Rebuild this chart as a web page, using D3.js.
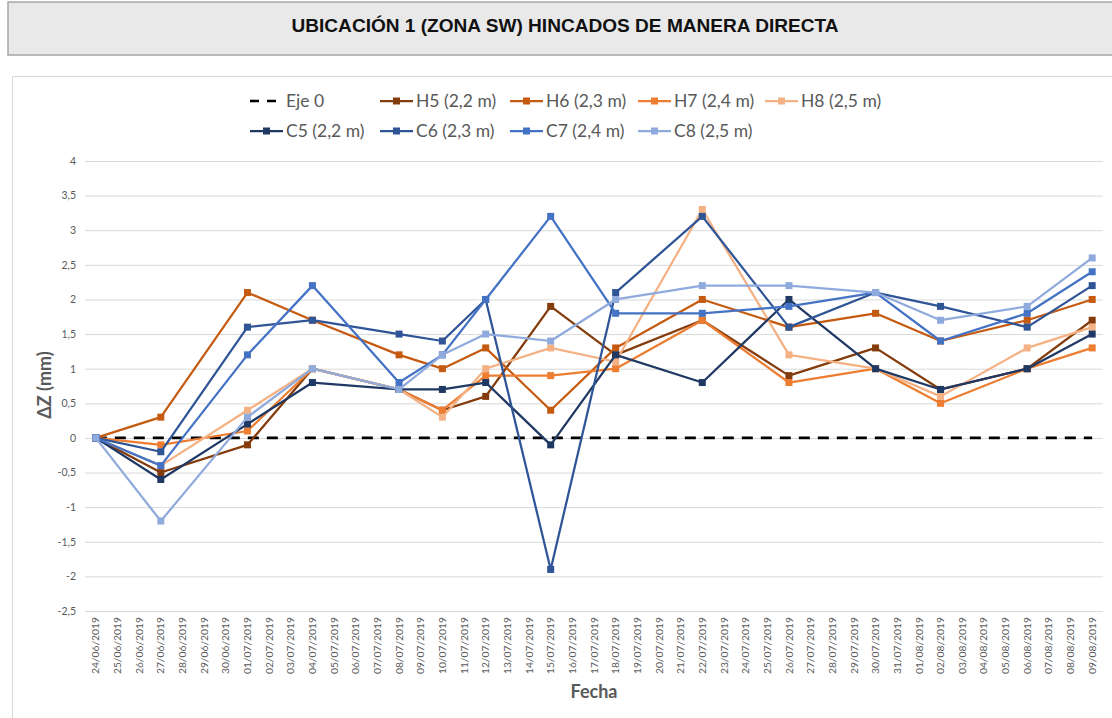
<!DOCTYPE html>
<html>
<head>
<meta charset="utf-8">
<script src="https://cdn.jsdelivr.net/npm/d3@7.9.0/dist/d3.min.js"></script>
<style>
body { margin: 0; background: #fff; }
svg { display: block; }
</style>
</head>
<body>
<div id="chart"></div>
<script>
const dayLabels = [
  "24/06/2019","25/06/2019","26/06/2019","27/06/2019","28/06/2019","29/06/2019","30/06/2019",
  "01/07/2019","02/07/2019","03/07/2019","04/07/2019","05/07/2019","06/07/2019","07/07/2019",
  "08/07/2019","09/07/2019","10/07/2019","11/07/2019","12/07/2019","13/07/2019","14/07/2019",
  "15/07/2019","16/07/2019","17/07/2019","18/07/2019","19/07/2019","20/07/2019","21/07/2019",
  "22/07/2019","23/07/2019","24/07/2019","25/07/2019","26/07/2019","27/07/2019","28/07/2019",
  "29/07/2019","30/07/2019","31/07/2019","01/08/2019","02/08/2019","03/08/2019","04/08/2019",
  "05/08/2019","06/08/2019","07/08/2019","08/08/2019","09/08/2019"
];
const fechas = ["24/06/2019","27/06/2019","01/07/2019","04/07/2019","08/07/2019","10/07/2019","12/07/2019",
  "15/07/2019","18/07/2019","22/07/2019","26/07/2019","30/07/2019","02/08/2019","06/08/2019","09/08/2019"];

const eje0 = [0, 0, 0, 0, 0, 0, 0, 0, 0, 0, 0, 0, 0, 0, 0];
const h5 = [0, -0.5, -0.1, 1.0, 0.7, 0.4, 0.6, 1.9, 1.2, 1.7, 0.9, 1.3, 0.7, 1.0, 1.7];
const h6 = [0, 0.3, 2.1, 1.7, 1.2, 1.0, 1.3, 0.4, 1.3, 2.0, 1.6, 1.8, 1.4, 1.7, 2.0];
const h7 = [0, -0.1, 0.1, 1.0, 0.7, 0.4, 0.9, 0.9, 1.0, 1.7, 0.8, 1.0, 0.5, 1.0, 1.3];
const h8 = [0, -0.4, 0.4, 1.0, 0.7, 0.3, 1.0, 1.3, 1.1, 3.3, 1.2, 1.0, 0.6, 1.3, 1.6];
const c5 = [0, -0.6, 0.2, 0.8, 0.7, 0.7, 0.8, -0.1, 1.2, 0.8, 2.0, 1.0, 0.7, 1.0, 1.5];
const c6 = [0, -0.2, 1.6, 1.7, 1.5, 1.4, 2.0, -1.9, 2.1, 3.2, 1.6, 2.1, 1.9, 1.6, 2.2];
const c7 = [0, -0.4, 1.2, 2.2, 0.8, 1.2, 2.0, 3.2, 1.8, 1.8, 1.9, 2.1, 1.4, 1.8, 2.4];
const c8 = [0, -1.2, 0.3, 1.0, 0.7, 1.2, 1.5, 1.4, 2.0, 2.2, 2.2, 2.1, 1.7, 1.9, 2.6];

const yTicks = [-2.5, -2, -1.5, -1, -0.5, 0, 0.5, 1, 1.5, 2, 2.5, 3, 3.5, 4];

const seriesNames = ["H5 (2,2 m)", "H6 (2,3 m)", "H7 (2,4 m)", "H8 (2,5 m)",
                     "C5 (2,2 m)", "C6 (2,3 m)", "C7 (2,4 m)", "C8 (2,5 m)"];
const seriesColors = ["#843c0c", "#c55a11", "#ed7d31", "#f4b183",
                      "#1f3864", "#2f5597", "#4472c4", "#8faadc"];
const seriesValues = [h5, h6, h7, h8, c5, c6, c7, c8];

const width = 1112, height = 718;
const plot = { left: 85, right: 1103, top: 161, bottom: 611 };
const textGray = "#595959";
const font = "Lato, Carlito, Calibri, sans-serif";

const svg = d3.select("#chart").append("svg")
    .attr("width", width)
    .attr("height", height);

// title box
svg.append("rect")
    .attr("x", 8).attr("y", 2)
    .attr("width", 1110).attr("height", 53)
    .attr("fill", "#e9e9e9")
    .attr("stroke", "#a6a6a6")
    .attr("stroke-width", 1.5);
svg.append("text")
    .attr("x", 565).attr("y", 32)
    .attr("text-anchor", "middle")
    .attr("fill", "#111")
    .style("font-family", "'Liberation Sans Narrow', 'Arial Narrow', 'Liberation Sans', Arial, sans-serif")
    .style("font-size", "19px")
    .style("font-weight", "bold")
    .attr("textLength", 547)
    .attr("lengthAdjust", "spacingAndGlyphs")
    .text("UBICACIÓN 1 (ZONA SW) HINCADOS DE MANERA DIRECTA");

// chart frame
svg.append("rect")
    .attr("x", 12.5).attr("y", 76.5)
    .attr("width", 1110).attr("height", 660)
    .attr("fill", "#fff")
    .attr("stroke", "#d9d9d9")
    .attr("stroke-width", 1);

const x = d3.scaleBand()
    .domain(dayLabels)
    .range([plot.left, plot.right])
    .padding(0);
const xc = d => x(d) + x.bandwidth() / 2;

const y = d3.scaleLinear()
    .domain([-2.5, 4])
    .range([plot.bottom, plot.top]);

// gridlines
const grid = svg.append("g")
    .attr("transform", "translate(" + plot.left + ",0)")
    .call(d3.axisLeft(y).tickValues(yTicks).tickSize(-(plot.right - plot.left)).tickFormat(""));
grid.select(".domain").remove();
grid.selectAll("line").attr("stroke", "#d9d9d9").attr("stroke-width", 1);

// y axis labels
const yAxis = svg.append("g")
    .attr("transform", "translate(" + (plot.left - 9) + ",0)")
    .call(d3.axisLeft(y).tickValues(yTicks).tickSize(0).tickPadding(0)
        .tickFormat(d => String(d).replace(".", ",")));
yAxis.select(".domain").remove();
yAxis.selectAll("text")
    .attr("fill", textGray)
    .style("font-family", font)
    .style("font-size", "10.5px");

// x axis labels
const xAxis = svg.append("g")
    .attr("transform", "translate(0," + plot.bottom + ")")
    .call(d3.axisBottom(x).tickSize(0));
xAxis.select(".domain").remove();
xAxis.selectAll("text")
    .attr("transform", "rotate(-90)")
    .attr("text-anchor", "end")
    .attr("x", -6)
    .attr("y", 0)
    .attr("dy", "0.35em")
    .attr("fill", textGray)
    .style("font-family", font)
    .style("font-size", "10.3px");

// axis titles
svg.append("text")
    .attr("transform", "translate(51,385) rotate(-90)")
    .attr("text-anchor", "middle")
    .attr("fill", textGray)
    .style("font-family", font)
    .style("font-size", "18px")
    .style("font-weight", "bold")
    .text("ΔZ (mm)");
svg.append("text")
    .attr("x", 594).attr("y", 698)
    .attr("text-anchor", "middle")
    .attr("fill", textGray)
    .style("font-family", font)
    .style("font-size", "18px")
    .style("font-weight", "bold")
    .text("Fecha");

const line = d3.line()
    .x((d, i) => xc(fechas[i]))
    .y(d => y(d));

// Eje 0 dashed series
svg.append("path")
    .datum(eje0)
    .attr("d", line)
    .attr("fill", "none")
    .attr("stroke", "#000")
    .attr("stroke-width", 2.6)
    .attr("stroke-dasharray", "11,8");

const ms = 7;
seriesValues.forEach((vals, k) => {
    const g = svg.append("g");
    g.append("path")
        .datum(vals)
        .attr("d", line)
        .attr("fill", "none")
        .attr("stroke", seriesColors[k])
        .attr("stroke-width", 2.25)
        .attr("stroke-linejoin", "round");
    g.selectAll("rect")
        .data(vals)
        .join("rect")
        .attr("x", (d, i) => xc(fechas[i]) - ms / 2)
        .attr("y", d => y(d) - ms / 2)
        .attr("width", ms)
        .attr("height", ms)
        .attr("fill", seriesColors[k]);
});

// legend
const legendItems = [
    { name: "Eje 0", color: "#000", dash: true, x: 250, y: 101 },
    { name: seriesNames[0], color: seriesColors[0], x: 380, y: 101 },
    { name: seriesNames[1], color: seriesColors[1], x: 510, y: 101 },
    { name: seriesNames[2], color: seriesColors[2], x: 638, y: 101 },
    { name: seriesNames[3], color: seriesColors[3], x: 765, y: 101 },
    { name: seriesNames[4], color: seriesColors[4], x: 250, y: 131 },
    { name: seriesNames[5], color: seriesColors[5], x: 380, y: 131 },
    { name: seriesNames[6], color: seriesColors[6], x: 510, y: 131 },
    { name: seriesNames[7], color: seriesColors[7], x: 638, y: 131 }
];
const legend = svg.append("g");
legendItems.forEach(it => {
    const g = legend.append("g").attr("transform", "translate(" + it.x + "," + it.y + ")");
    g.append("line")
        .attr("x1", 0).attr("x2", 33)
        .attr("stroke", it.color)
        .attr("stroke-width", it.dash ? 2.6 : 2.25)
        .attr("stroke-dasharray", it.dash ? "9,8" : null);
    if (!it.dash) {
        g.append("rect")
            .attr("x", 16.5 - ms / 2).attr("y", -ms / 2)
            .attr("width", ms).attr("height", ms)
            .attr("fill", it.color);
    }
    g.append("text")
        .attr("x", 36).attr("y", 0)
        .attr("dy", "0.36em")
        .attr("fill", textGray)
        .style("font-family", font)
        .style("font-size", "17.5px")
        .text(it.name);
});
</script>
</body>
</html>
